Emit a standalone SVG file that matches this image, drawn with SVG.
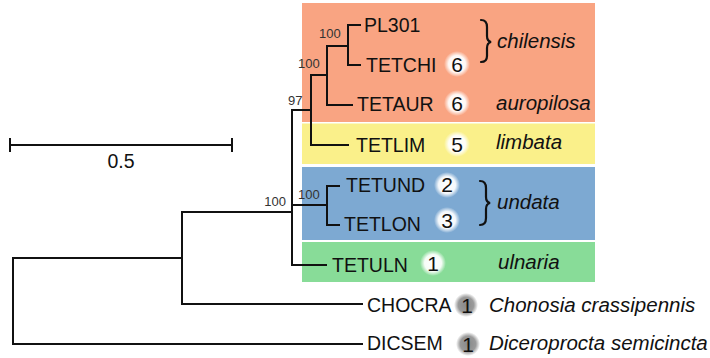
<svg xmlns="http://www.w3.org/2000/svg" width="710" height="358" viewBox="0 0 710 358">
<defs>
<radialGradient id="gw"><stop offset="0" stop-color="#fff" stop-opacity="1"/><stop offset="0.65" stop-color="#fff" stop-opacity="0.92"/><stop offset="1" stop-color="#fff" stop-opacity="0"/></radialGradient>
<radialGradient id="gg"><stop offset="0" stop-color="#888"/><stop offset="0.65" stop-color="#9a9a9a"/><stop offset="1" stop-color="#fff"/></radialGradient>
<style>
.t{font-family:"Liberation Sans",Arial,sans-serif;font-size:19.5px;fill:#111}
.i{font-family:"Liberation Sans",Arial,sans-serif;font-size:20.5px;font-style:italic;fill:#111}
.b{font-family:"Liberation Sans",Arial,sans-serif;font-size:13px;fill:#333}
.n{font-family:"Liberation Sans",Arial,sans-serif;font-size:21px;fill:#111;text-anchor:middle}
.e{fill:none;stroke:#111;stroke-width:2;stroke-linecap:square}
.br{fill:none;stroke:#111;stroke-width:2.2;stroke-linecap:round}
</style>
</defs>
<g id="backgrounds">
<rect x="302" y="3" width="293" height="119" fill="#F9A482"/>
<rect x="302" y="123.5" width="293" height="40.5" fill="#FAF08A"/>
<rect x="302" y="167" width="293" height="73" fill="#7DA9D2"/>
<rect x="302" y="242" width="293" height="40" fill="#88DC98"/>
</g>
<g id="scale">
<path class="e" d="M10 145H232M10 139V151M232 139V151"/>
<text class="t" x="121" y="168" text-anchor="middle">0.5</text>
</g>
<g id="edges">
<path class="e" d="M13 258V344M13 258H182M13 344H362M182 212V304M182 304H362M182 212H292M292 110V265M292 110H311M311 75V145M311 145H348M311 75H327M327 46V105M327 105H352M327 46H348M348 25V65M348 25H360M348 65H360M292 205H327M327 186V225M327 186H339M327 225H339M292 265H326"/>
</g>
<g id="support">
<text class="b" x="286" y="206" text-anchor="end">100</text>
<text class="b" x="288" y="105">97</text>
<text class="b" x="298" y="68">100</text>
<text class="b" x="319" y="38">100</text>
<text class="b" x="298" y="199">100</text>
</g>
<g id="PL301"><text class="t" x="364" y="32">PL301</text></g>
<g id="TETCHI"><text class="t" x="366" y="72">TETCHI</text><circle cx="457" cy="64" r="13" fill="url(#gw)"/><text class="n" x="457" y="72">6</text></g>
<g id="TETAUR"><text class="t" x="357" y="111">TETAUR</text><circle cx="457" cy="103" r="13" fill="url(#gw)"/><text class="n" x="457" y="111">6</text></g>
<g id="TETLIM"><text class="t" x="356" y="152">TETLIM</text><circle cx="457" cy="144" r="13" fill="url(#gw)"/><text class="n" x="457" y="152">5</text></g>
<g id="TETUND"><text class="t" x="346" y="192">TETUND</text><circle cx="447" cy="185" r="13" fill="url(#gw)"/><text class="n" x="447" y="192">2</text></g>
<g id="TETLON"><text class="t" x="344" y="231">TETLON</text><circle cx="447" cy="220" r="13" fill="url(#gw)"/><text class="n" x="447" y="228">3</text></g>
<g id="TETULN"><text class="t" x="332" y="272">TETULN</text><circle cx="433" cy="263" r="13" fill="url(#gw)"/><text class="n" x="433" y="271">1</text></g>
<g id="CHOCRA"><text class="t" x="367" y="312">CHOCRA</text><circle cx="466" cy="305" r="12" fill="url(#gg)"/><text class="n" x="467" y="313">1</text></g>
<g id="DICSEM"><text class="t" x="367" y="350">DICSEM</text><circle cx="468" cy="344" r="12" fill="url(#gg)"/><text class="n" x="468" y="352">1</text></g>
<g id="clades">
<path class="br" d="M481 20Q487 20 487 27V36Q487 41 491 42Q487 43 487 48V56Q487 62 481 62"/>
<text class="i" x="497" y="48">chilensis</text>
<text class="i" x="496" y="110">auropilosa</text>
<text class="i" x="496" y="149">limbata</text>
<path class="br" d="M480 181Q486 181 486 188V197Q486 202 490 203Q486 204 486 209V218Q486 225 480 225"/>
<text class="i" x="497" y="209">undata</text>
<text class="i" x="498" y="269">ulnaria</text>
<text class="i" x="489" y="312">Chonosia crassipennis</text>
<text class="i" x="489" y="350">Diceroprocta semicincta</text>
</g>
</svg>
